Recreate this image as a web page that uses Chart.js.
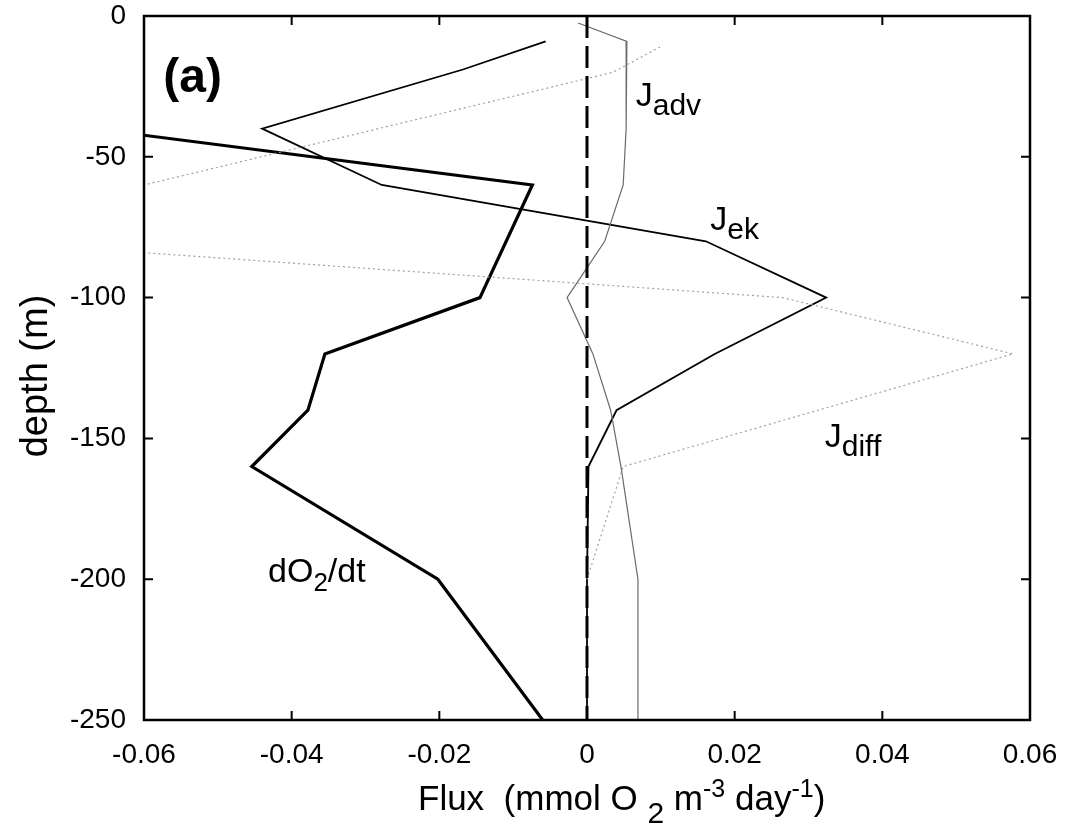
<!DOCTYPE html>
<html lang="en">
<head>
  <meta charset="UTF-8">
  <title>Flux profiles (a)</title>
  <style>
    body { margin: 0; background: #fff; }
    .wrap { width: 1073px; height: 824px; position: relative; }
  </style>
</head>
<body>
<div class="wrap">
  <canvas id="fluxChart"></canvas>
</div>

<script src="https://cdn.jsdelivr.net/npm/chart.js@4.4.0/dist/chart.umd.min.js"></script>
<script>
  // values (depth in m, flux in mmol O2 m-3 day-1)
  const dO2Depth = [-40, -60, -100, -120, -140, -160, -200, -250];
  const dO2Flux  = [-0.067, -0.0074, -0.0145, -0.0355, -0.0378, -0.0454, -0.0202, -0.006];

  const ekDepth = [-9, -19, -40, -60, -80, -100, -120, -140, -160, -200, -250];
  const ekFlux  = [-0.0056, -0.0168, -0.044, -0.0278, 0.0161, 0.0324, 0.0173, 0.004, 0.0002, 0, 0];

  const advDepth = [-2.5, -9, -40, -60, -80, -100, -120, -140, -160, -200, -250];
  const advFlux  = [-0.0012, 0.0054, 0.0053, 0.0049, 0.0024, -0.0027, 0.0008, 0.0032, 0.0046, 0.0069, 0.0069];

  const diffDepth = [-11, -20, -60, -80, -100, -120, -160, -200];
  const diffFlux  = [0.0099, 0.0035, -0.06, -0.082, 0.0265, 0.0577, 0.0049, 0.0];

  const zeroDepth = [0, -250];
  const zeroFlux  = [0, 0];

  const depthTicks = [0, -50, -100, -150, -200, -250];
  const fluxTicks = [-0.06, -0.04, -0.02, 0, 0.02, 0.04, 0.06];
  const fluxTickLabels = ['-0.06', '-0.04', '-0.02', '0', '0.02', '0.04', '0.06'];

  const FONT = "'Liberation Sans', Arial, Helvetica, sans-serif";

  const pts = (xs, ys) => xs.map((x, i) => ({ x: x, y: ys[i] }));

  // text labels inside the plot: [x, y] in data units, pieces of rich text
  const labels = [
    { x: -0.0574, y: -27, parts: [{ t: '(a)', size: 48, bold: true }] },
    { x: 0.0066, y: -32, parts: [{ t: 'J', size: 34 }, { t: 'adv', size: 30, dy: 9 }] },
    { x: 0.0167, y: -76, parts: [{ t: 'J', size: 34 }, { t: 'ek', size: 30, dy: 9 }] },
    { x: 0.0322, y: -153, parts: [{ t: 'J', size: 34 }, { t: 'diff', size: 30, dy: 9 }] },
    { x: -0.0432, y: -201, parts: [{ t: 'dO', size: 34 }, { t: '2', size: 26, dy: 9 }, { t: '/dt', size: 34 }] }
  ];

  const xTitle = [
    { t: 'Flux  (mmol O ', size: 35 }, { t: '2', size: 30, dy: 13 }, { t: ' m', size: 35 },
    { t: '-3', size: 25, dy: -13 }, { t: ' day', size: 35 }, { t: '-1', size: 25, dy: -13 }, { t: ')', size: 35 }
  ];

  function drawRich(ctx, x, y, parts) {
    parts.forEach(p => {
      ctx.font = (p.bold ? 'bold ' : '') + p.size + 'px ' + FONT;
      ctx.fillText(p.t, x, y + (p.dy || 0));
      x += ctx.measureText(p.t).width;
    });
  }

  const framePlugin = {
    id: 'frame',
    afterDatasetsDraw(chart) {
      const { ctx, chartArea: a, scales } = chart;
      const xs = scales.x, ys = scales.y;
      ctx.save();
      ctx.strokeStyle = '#000';
      ctx.lineWidth = 2.5;
      ctx.strokeRect(a.left, a.top, a.right - a.left, a.bottom - a.top);

      // inward ticks on all four sides
      const len = 9;
      ctx.lineWidth = 2;
      ctx.beginPath();
      fluxTicks.forEach(v => {
        const px = xs.getPixelForValue(v);
        ctx.moveTo(px, a.bottom); ctx.lineTo(px, a.bottom - len);
        ctx.moveTo(px, a.top); ctx.lineTo(px, a.top + len);
      });
      depthTicks.forEach(v => {
        const py = ys.getPixelForValue(v);
        ctx.moveTo(a.left, py); ctx.lineTo(a.left + len, py);
        ctx.moveTo(a.right, py); ctx.lineTo(a.right - len, py);
      });
      ctx.stroke();

      ctx.fillStyle = '#000';
      ctx.textBaseline = 'alphabetic';
      ctx.textAlign = 'left';
      labels.forEach(l => drawRich(ctx, xs.getPixelForValue(l.x), ys.getPixelForValue(l.y), l.parts));

      // axis titles
      drawRich(ctx, 418, 810, xTitle);
      ctx.translate(47, (a.top + a.bottom) / 2 + 8);
      ctx.rotate(-Math.PI / 2);
      ctx.textAlign = 'center';
      ctx.font = '38px ' + FONT;
      ctx.fillText('depth (m)', 0, 0);
      ctx.restore();
    }
  };

  new Chart(document.getElementById('fluxChart'), {
    type: 'scatter',
    data: {
      datasets: [
        { label: 'zero', data: pts(zeroFlux, zeroDepth), borderColor: '#000', borderWidth: 3, borderDash: [22, 8] },
        { label: 'J_diff', data: pts(diffFlux, diffDepth), borderColor: '#a0a0a0', borderWidth: 1.2, borderDash: [2, 3] },
        { label: 'J_adv', data: pts(advFlux, advDepth), borderColor: '#6a6a6a', borderWidth: 1.2 },
        { label: 'J_ek', data: pts(ekFlux, ekDepth), borderColor: '#000', borderWidth: 1.8 },
        { label: 'dO2/dt', data: pts(dO2Flux, dO2Depth), borderColor: '#000', borderWidth: 3.2 }
      ].map(d => Object.assign(d, { showLine: true, pointRadius: 0, fill: false, tension: 0, clip: 0 }))
    },
    options: {
      responsive: true,
      maintainAspectRatio: false,
      animation: false,
      layout: { padding: { top: 16, right: 43, left: 0, bottom: 0 } },
      plugins: { legend: { display: false }, tooltip: { enabled: false } },
      scales: {
        x: {
          type: 'linear',
          min: -0.06,
          max: 0.06,
          afterBuildTicks: s => { s.ticks = fluxTicks.map(v => ({ value: v })); },
          afterFit: s => { s.height = 104; s.paddingLeft = 0; s.paddingRight = 0; },
          ticks: {
            autoSkip: false,
            maxRotation: 0,
            padding: 18,
            color: '#000',
            font: { size: 28, family: FONT },
            callback: v => fluxTickLabels[fluxTicks.findIndex(t => Math.abs(t - v) < 1e-9)]
          },
          grid: { display: false, drawTicks: false },
          border: { display: false }
        },
        y: {
          type: 'linear',
          min: -250,
          max: 0,
          afterBuildTicks: s => { s.ticks = depthTicks.map(v => ({ value: v })); },
          afterFit: s => { s.width = 144; s.paddingTop = 0; s.paddingBottom = 0; },
          ticks: {
            padding: 18,
            color: '#000',
            font: { size: 28, family: FONT },
            callback: v => String(v)
          },
          grid: { display: false, drawTicks: false },
          border: { display: false }
        }
      }
    },
    plugins: [framePlugin]
  });
</script>
</body>
</html>
